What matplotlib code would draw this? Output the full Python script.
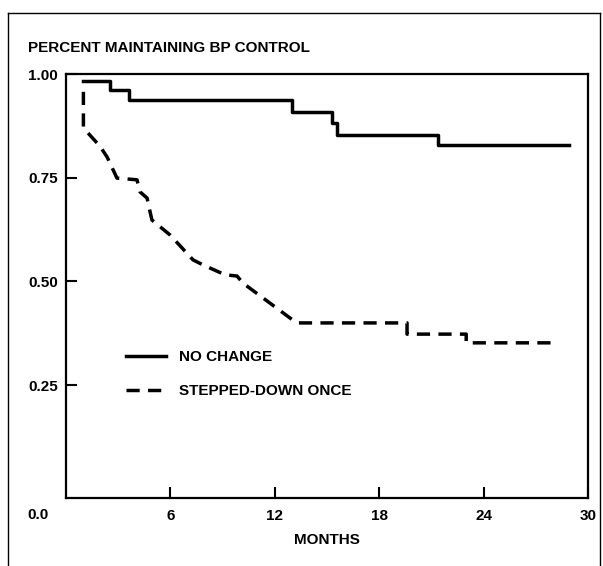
import matplotlib
matplotlib.use("Agg")
import matplotlib.pyplot as plt
from matplotlib.lines import Line2D

# values (months, proportion)
no_change_months = [1.0, 2.5, 3.6, 13.0, 15.3, 15.6, 21.4, 28.9]
no_change_prop = [0.984, 0.961, 0.937, 0.908, 0.882, 0.853, 0.829, 0.829]

stepped_months = [1.0, 1.0, 1.95, 2.36, 2.93, 4.08, 4.25, 4.66, 4.77, 4.94,
                  5.98, 7.3, 7.87, 9.14, 9.83, 10.17, 12.87, 13.28,
                  19.6, 19.6, 23.0, 23.0, 28.2]
stepped_prop = [0.957, 0.870, 0.826, 0.800, 0.749, 0.745, 0.716, 0.701, 0.679, 0.648,
                0.612, 0.552, 0.540, 0.516, 0.513, 0.496, 0.412, 0.400,
                0.400, 0.373, 0.373, 0.352, 0.352]

x_ticks = [6, 12, 18, 24, 30]
y_ticks = [0.25, 0.50, 0.75, 1.00]
y_tick_labels = ["0.25", "0.50", "0.75", "1.00"]

plt.rcParams['font.family'] = ['Liberation Sans', 'DejaVu Sans']
plt.rcParams['font.weight'] = 'bold'

W, H = 603, 566
fig = plt.figure(figsize=(W / 100, H / 100), dpi=100)
ax = fig.add_axes([66 / W, 1 - 498 / H, (588 - 66) / W, (498 - 74) / H])

ax.plot(no_change_months, no_change_prop, color='black', lw=2.5,
        drawstyle='steps-post', label='NO CHANGE')
ax.plot(stepped_months, stepped_prop, color='black', lw=2.5,
        linestyle=(0, (3.8, 2.4)), label='STEPPED-DOWN ONCE')

ax.set_xlim(0, 30)
ax.set_ylim(-0.022, 1.0)
ax.set_xticks(x_ticks)
ax.set_xticklabels([str(t) for t in x_ticks])
ax.set_yticks(y_ticks)
ax.set_yticklabels(y_tick_labels)
ax.tick_params(direction='in', length=8, width=1.5, labelsize=11, pad=6)
ax.tick_params(axis='x', pad=8)
for s in ax.spines.values():
    s.set_linewidth(1.6)

ax.set_xlabel('MONTHS', fontsize=11, fontweight='bold', labelpad=7)

fig.text(28 / W, 1 - 48 / H, 'PERCENT MAINTAINING BP CONTROL', fontsize=11,
         fontweight='bold', va='center', ha='left')
fig.text(38 / W, 1 - 515 / H, '0.0', fontsize=11, fontweight='bold',
         va='center', ha='center')

ax.legend(loc='upper left', bbox_to_anchor=(126 / W, 1 - 350 / H),
          bbox_transform=fig.transFigure, frameon=False, fontsize=11,
          handlelength=2.6, handletextpad=0.85, labelspacing=1.3,
          borderpad=0, borderaxespad=0)

# outer frame of the figure panel
frame_kw = dict(color='black', lw=1.0, transform=fig.transFigure)
fig.add_artist(Line2D([8 / W, 8 / W], [0, 1 - 13 / H], **frame_kw))
fig.add_artist(Line2D([8 / W, 600 / W], [1 - 13 / H, 1 - 13 / H], **frame_kw))
fig.add_artist(Line2D([600 / W, 600 / W], [0, 1 - 13 / H], **frame_kw))

fig.savefig('out.png', dpi=100)
